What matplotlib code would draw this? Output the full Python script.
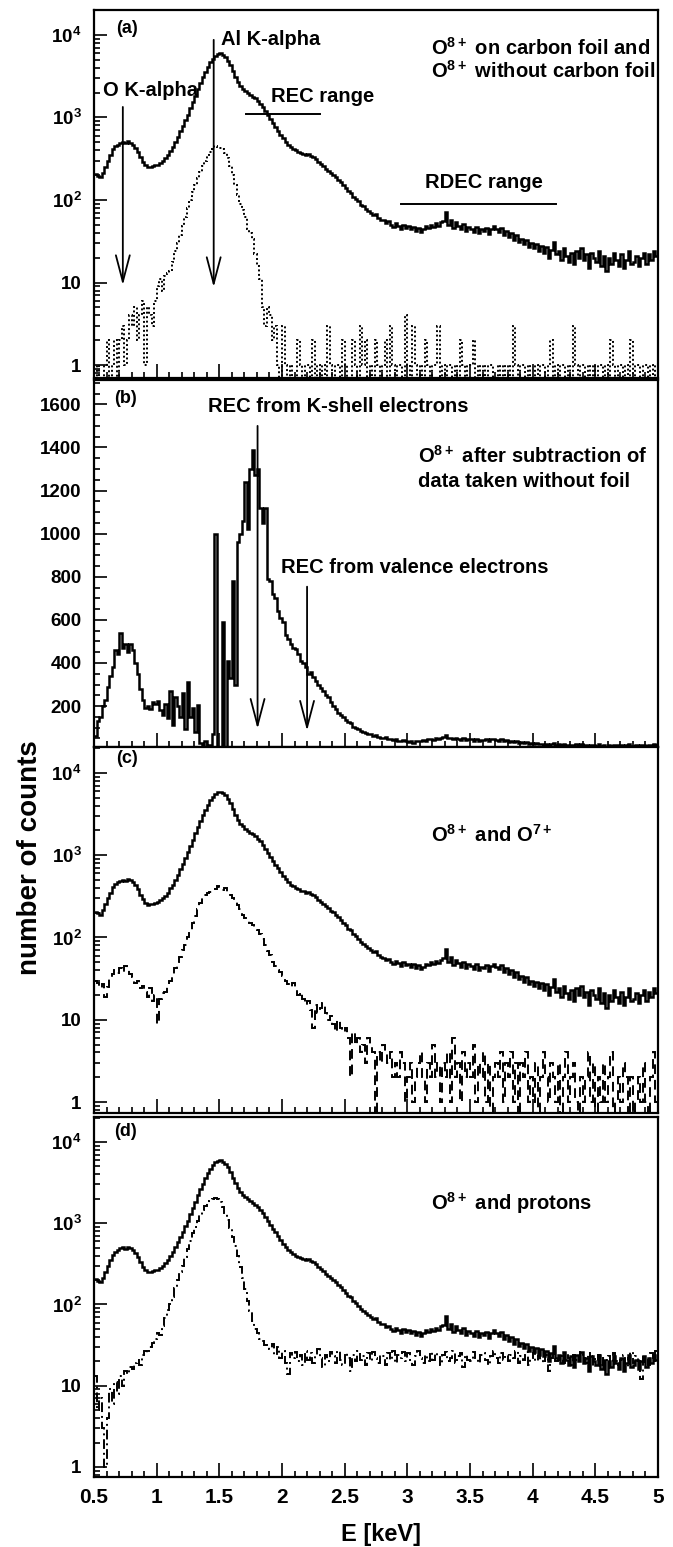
import numpy as np
import matplotlib
matplotlib.use("Agg")
import matplotlib.pyplot as plt
from matplotlib.ticker import FixedLocator, FixedFormatter, MultipleLocator, NullFormatter

plt.rcParams['font.family'] = ['Liberation Sans', 'DejaVu Sans']
plt.rcParams['font.weight'] = 'bold'
plt.rcParams['mathtext.default'] = 'regular'

# ---------------- data (bins of 0.02 keV from 0.5 to 5.0 keV) ----------------
E_MIN, E_MAX, BIN_W = 0.5, 5.0, 0.02

# O8+ on carbon foil (solid, panels a, c, d)
o8_foil = [
    205, 196, 188, 214, 252,   300, 352, 410, 448, 470,
    492, 505, 488, 512, 496,   470, 430, 385, 330, 290,
    262, 248, 252, 256, 262,   268, 282, 300, 322, 350,
    395, 440, 505, 580, 680,   790, 920, 1080, 1290, 1530,
    1840, 2200, 2620, 3080, 3560,   4100, 4650, 5150, 5600, 5880,
    5950, 5750, 5400, 4880, 4300,   3650, 3100, 2700, 2420, 2240,
    2100, 1980, 1880, 1790, 1700,   1590, 1470, 1340, 1200, 1070,
    960, 860, 770, 690, 620,   560, 510, 470, 440, 418,
    400, 385, 372, 365, 352,   360, 340, 330, 315, 288,
    270, 258, 240, 226, 212,   202, 188, 176, 164, 152,
    140, 128, 122, 110, 104,   96, 88, 84, 78, 74,
    70, 66, 68, 61, 58,   57, 53, 55, 50, 47,
    52, 49, 45, 50, 46,   48, 44, 47, 42, 46,
    41, 44, 48, 46, 50,   47, 52, 49, 54, 56,
    72, 50, 58, 46, 54,   49, 44, 51, 42, 47,
    45, 41, 47, 40, 44,   42, 46, 39, 45, 48,
    44, 41, 46, 38, 42,   36, 40, 33, 38, 31,
    34, 29, 33, 27, 30,   26, 29, 24, 28, 23,
    27, 20, 25, 31, 22,   24, 19, 26, 21, 18,
    23, 17, 24, 20, 26,   19, 22, 15, 23, 20,
    18, 24, 16, 21, 14,   20, 17, 23, 19, 16,
    22, 15, 19, 24, 17,   18, 21, 16, 20, 23,
    17, 22, 19, 24, 21,
]

# O8+ without carbon foil (dotted, panel a)
o8_nofoil = [
    0, 1, 0, 0, 1,   2, 0, 1, 2, 0,
    2, 3, 1, 2, 4,   3, 5, 2, 4, 6,
    1, 5, 4, 3, 6,   9, 11, 8, 12, 13,
    14, 18, 24, 30, 38,   48, 62, 80, 100, 125,
    150, 185, 220, 260, 300,   340, 385, 420, 445, 440,
    430, 410, 370, 320, 260,   200, 150, 115, 90, 75,
    62, 45, 40, 34, 22,   16, 11, 5, 3, 5,
    4, 2, 3, 1, 0,   3, 1, 0, 1, 0,
    0, 2, 1, 0, 1,   1, 0, 2, 0, 1,
    0, 1, 0, 3, 1,   0, 1, 1, 0, 2,
    1, 0, 0, 2, 1,   0, 3, 1, 2, 0,
    1, 0, 2, 1, 0,   1, 2, 0, 3, 1,
    0, 1, 1, 0, 4,   1, 0, 3, 1, 0,
    1, 0, 2, 1, 0,   1, 1, 3, 0, 1,
    0, 1, 1, 0, 1,   0, 2, 1, 0, 1,
    1, 2, 0, 1, 0,   1, 0, 1, 1, 0,
    0, 1, 0, 1, 0,   1, 0, 3, 1, 0,
    1, 1, 0, 1, 0,   0, 1, 0, 1, 1,
    0, 1, 2, 0, 1,   0, 1, 1, 0, 1,
    0, 3, 1, 0, 1,   1, 0, 1, 0, 1,
    0, 1, 1, 0, 1,   0, 2, 1, 0, 1,
    1, 0, 1, 0, 2,   0, 1, 1, 0, 1,
    1, 0, 1, 0, 1,
]

# O8+ after subtraction of data taken without foil (panel b, linear)
o8_subtracted = [
    60, 130, 150, 200, 230,   290, 340, 380, 460, 440,
    540, 470, 490, 450, 490,   460, 400, 350, 280, 230,
    190, 200, 185, 220, 210,   225, 180, 160, 210, 145,
    270, 110, 240, 200, 150,   260, 95, 310, 150, 190,
    80, 205, 30, 0, 40,   0, 20, 70, 1000, 0,
    0, 590, 0, 410, 330,   780, 300, 960, 1000, 1060,
    1240, 1020, 1300, 1390, 1270,   1300, 1120, 1050, 1120, 790,
    780, 720, 700, 640, 610,   590, 530, 510, 490, 470,
    465, 440, 410, 400, 380,   350, 360, 335, 315, 300,
    285, 270, 250, 240, 220,   200, 185, 170, 160, 150,
    135, 125, 120, 105, 100,   95, 85, 80, 75, 70,
    72, 60, 64, 55, 52,   50, 56, 45, 48, 42,
    46, 40, 38, 44, 36,   34, 39, 30, 36, 40,
    37, 42, 38, 45, 48,   44, 50, 46, 52, 55,
    66, 50, 54, 46, 52,   48, 42, 50, 44, 47,
    45, 40, 46, 38, 43,   42, 47, 40, 45, 48,
    44, 40, 46, 36, 41,   35, 38, 31, 36, 30,
    32, 27, 31, 25, 28,   24, 27, 22, 26, 21,
    25, 18, 23, 28, 20,   22, 17, 24, 19, 16,
    21, 15, 22, 18, 24,   17, 20, 13, 21, 18,
    16, 22, 14, 19, 12,   18, 15, 21, 17, 14,
    20, 13, 17, 22, 15,   16, 19, 14, 18, 21,
    15, 20, 17, 22, 19,
]

# O7+ (dashed, panel c)
o7 = [
    30, 28, 24, 27, 19,   25, 32, 36, 40, 37,
    42, 38, 45, 40, 36,   33, 28, 30, 24, 26,
    22, 19, 24, 17, 20,   9, 18, 21, 22, 26,
    30, 36, 42, 50, 58,   70, 82, 100, 125, 150,
    185, 220, 260, 300, 330,   345, 360, 375, 390, 420,
    410, 380, 400, 350, 330,   300, 280, 245, 220, 190,
    175, 160, 150, 140, 135,   125, 110, 95, 80, 68,
    62, 50, 45, 40, 38,   34, 30, 27, 25, 28,
    24, 20, 22, 18, 15,   17, 13, 8, 15, 12,
    14, 16, 12, 10, 11,   9, 7, 10, 8, 7,
    8, 6, 2, 7, 5,   6, 4, 5, 3, 6,
    5, 4, 0, 4, 3,   5, 4, 3, 4, 2,
    3, 2, 4, 3, 1,   2, 3, 1, 2, 3,
    4, 2, 1, 3, 2,   5, 2, 3, 1, 3,
    2, 4, 1, 6, 2,   3, 1, 4, 2, 3,
    2, 5, 1, 3, 2,   4, 1, 3, 0, 2,
    3, 2, 4, 1, 3,   2, 4, 1, 3, 0,
    3, 2, 4, 1, 2,   1, 3, 0, 2, 4,
    2, 1, 3, 2, 1,   3, 0, 2, 4, 1,
    2, 3, 1, 0, 2,   1, 2, 4, 1, 3,
    0, 2, 1, 3, 1,   2, 4, 0, 1, 2,
    1, 3, 2, 0, 2,   0, 1, 2, 1, 3,
    1, 0, 2, 4, 1,
]

# protons (dash-dot, panel d)
protons = [
    13, 5, 7, 3, 1,   4, 9, 6, 11, 8,
    13, 10, 15, 14, 17,   16, 19, 21, 18, 24,
    27, 25, 30, 34, 38,   45, 42, 55, 68, 85,
    100, 125, 160, 200, 250,   300, 380, 480, 600, 750,
    900, 1080, 1280, 1450, 1620,   1760, 1880, 1980, 2040, 1960,
    1800, 1580, 1330, 1100, 880,   680, 520, 390, 290, 210,
    155, 110, 82, 62, 50,   44, 38, 36, 32, 30,
    28, 33, 24, 30, 22,   27, 19, 14, 25, 22,
    26, 20, 24, 18, 27,   21, 25, 19, 23, 28,
    22, 17, 24, 20, 26,   23, 19, 27, 21, 18,
    25, 22, 15, 24, 20,   27, 21, 23, 18, 25,
    20, 26, 22, 19, 24,   23, 18, 25, 21, 27,
    19, 24, 22, 26, 20,   25, 21, 18, 23, 27,
    22, 19, 24, 20, 26,   21, 25, 23, 18, 24,
    26, 20, 22, 27, 19,   23, 25, 17, 24, 21,
    20, 26, 22, 19, 24,   25, 21, 18, 23, 27,
    22, 19, 25, 21, 24,   20, 24, 22, 27, 19,
    23, 21, 26, 18, 22,   25, 20, 23, 21, 19,
    24, 15, 22, 26, 20,   21, 23, 19, 25, 22,
    18, 24, 21, 20, 26,   22, 19, 25, 17, 23,
    20, 24, 18, 22, 21,   23, 19, 25, 20, 18,
    21, 24, 17, 22, 26,   19, 23, 20, 12, 24,
    22, 18, 25, 20, 27,
]

x_ticks = [0.5, 1, 1.5, 2, 2.5, 3, 3.5, 4, 4.5, 5]
x_ticklabels = ['0.5', '1', '1.5', '2', '2.5', '3', '3.5', '4', '4.5', '5']
log_ticks = [1, 10, 100, 1000, 10000]
log_ticklabels = ['1', '10', '10$^{2}$', '10$^{3}$', '10$^{4}$']
lin_ticks = [200, 400, 600, 800, 1000, 1200, 1400, 1600]
lin_ticklabels = [str(v) for v in lin_ticks]

edges = E_MIN + BIN_W * np.arange(len(o8_foil) + 1)

# ---------------- figure ----------------
W, H = 673, 1547
fig = plt.figure(figsize=(W / 100, H / 100), dpi=100)

x0, x1 = 94, 658
panels_px = [(10, 378), (380, 747), (747, 1113), (1117, 1477)]
axes = []
for top, bot in panels_px:
    ax = fig.add_axes([x0 / W, 1 - bot / H, (x1 - x0) / W, (bot - top) / H])
    axes.append(ax)
ax_a, ax_b, ax_c, ax_d = axes

ANN = 14.5


def style(ax, log=True, last=False):
    ax.set_xlim(E_MIN, E_MAX)
    for sp in ax.spines.values():
        sp.set_linewidth(1.6)
    ax.xaxis.set_major_locator(FixedLocator(x_ticks))
    ax.xaxis.set_minor_locator(MultipleLocator(0.1))
    ax.tick_params(axis='x', which='major', direction='in', length=10, width=1.2,
                   top=False, labelbottom=last, labelsize=15, pad=8)
    ax.tick_params(axis='x', which='minor', direction='in', length=4, width=1.2, top=False)
    ax.tick_params(axis='y', which='major', direction='in', length=9, width=1.2,
                   right=False, labelsize=13.5, pad=9)
    ax.tick_params(axis='y', which='minor', direction='in', length=4.5, width=1.2, right=False)
    if last:
        ax.xaxis.set_major_formatter(FixedFormatter(x_ticklabels))
    if log:
        ax.set_yscale('log', nonpositive='clip')
        ax.yaxis.set_major_locator(FixedLocator(log_ticks))
        ax.yaxis.set_major_formatter(FixedFormatter(log_ticklabels))
        ax.yaxis.set_minor_locator(FixedLocator(
            [m * 10 ** d for d in range(-1, 5) for m in range(2, 10)]))
        ax.yaxis.set_minor_formatter(NullFormatter())
    for lab in ax.get_xticklabels() + ax.get_yticklabels():
        lab.set_fontweight('bold')


def arrow(ax, x, y_from, y_to):
    ax.annotate('', xy=(x, y_to), xytext=(x, y_from),
                arrowprops=dict(arrowstyle='->,head_length=0.95,head_width=0.25',
                                lw=1.3, color='black', shrinkA=0, shrinkB=0,
                                mutation_scale=20))


def label(ax, fx, fy, s, size=ANN):
    ax.text(fx, fy, s, transform=ax.transAxes, fontsize=size, fontweight='bold',
            ha='left', va='baseline')


# ---- panel (a)
ax = ax_a
ax.stairs(o8_foil, edges, baseline=None, color='black', lw=1.8)
ax.stairs(o8_nofoil, edges, baseline=None, color='black', lw=1.4, linestyle=(0, (1, 1.3)))
style(ax)
ax.set_ylim(0.70, 2.0e4)
arrow(ax, 0.73, 1340, 9.3)
arrow(ax, 1.455, 8700, 8.8)
ax.plot([1.71, 2.30], [1100, 1100], color='black', lw=1.4)
ax.plot([2.95, 4.19], [89, 89], color='black', lw=1.4)
label(ax, 0.039, 0.9375, '(a)', 13)
label(ax, 0.225, 0.905, 'Al K-alpha')
label(ax, 0.016, 0.766, 'O K-alpha')
label(ax, 0.313, 0.75, 'REC range')
label(ax, 0.587, 0.516, 'RDEC range')
label(ax, 0.598, 0.878, 'O$^{8+}$ on carbon foil and')
label(ax, 0.598, 0.815, 'O$^{8+}$ without carbon foil')

# ---- panel (b)
ax = ax_b
ax.stairs(o8_subtracted, edges, baseline=None, color='black', lw=1.8)
style(ax, log=False)
ax.set_ylim(10, 1713)
ax.yaxis.set_major_locator(FixedLocator(lin_ticks))
ax.yaxis.set_major_formatter(FixedFormatter(lin_ticklabels))
ax.yaxis.set_minor_locator(MultipleLocator(50))
for lab in ax.get_yticklabels():
    lab.set_fontweight('bold')
arrow(ax, 1.805, 1500, 94)
arrow(ax, 2.20, 754, 85)
label(ax, 0.035, 0.937, '(b)', 13)
label(ax, 0.202, 0.913, 'REC from K-shell electrons')
label(ax, 0.575, 0.774, 'O$^{8+}$ after subtraction of')
label(ax, 0.575, 0.708, 'data taken without foil')
label(ax, 0.332, 0.474, 'REC from valence electrons')

# ---- panel (c)
ax = ax_c
ax.stairs(o8_foil, edges, baseline=None, color='black', lw=1.8)
ax.stairs(o7, edges, baseline=None, color='black', lw=1.4, linestyle=(0, (5, 3)))
style(ax)
ax.set_ylim(0.735, 2.07e4)
label(ax, 0.039, 0.956, '(c)', 13)
label(ax, 0.598, 0.740, 'O$^{8+}$ and O$^{7+}$')

# ---- panel (d)
ax = ax_d
ax.stairs(o8_foil, edges, baseline=None, color='black', lw=1.8)
ax.stairs(protons, edges, baseline=None, color='black', lw=1.4,
          linestyle=(0, (5, 2, 1, 2)))
style(ax, last=True)
ax.set_ylim(0.753, 2.03e4)
label(ax, 0.035, 0.947, '(d)', 13)
label(ax, 0.598, 0.742, 'O$^{8+}$ and protons')

fig.text(30 / W, 1 - 858 / H, 'number of counts', rotation=90, fontsize=20,
         fontweight='bold', ha='center', va='center')
fig.text(381 / W, 1 - 1535 / H, 'E [keV]', fontsize=17, fontweight='bold',
         ha='center', va='center')

fig.savefig('out.png', dpi=100)
